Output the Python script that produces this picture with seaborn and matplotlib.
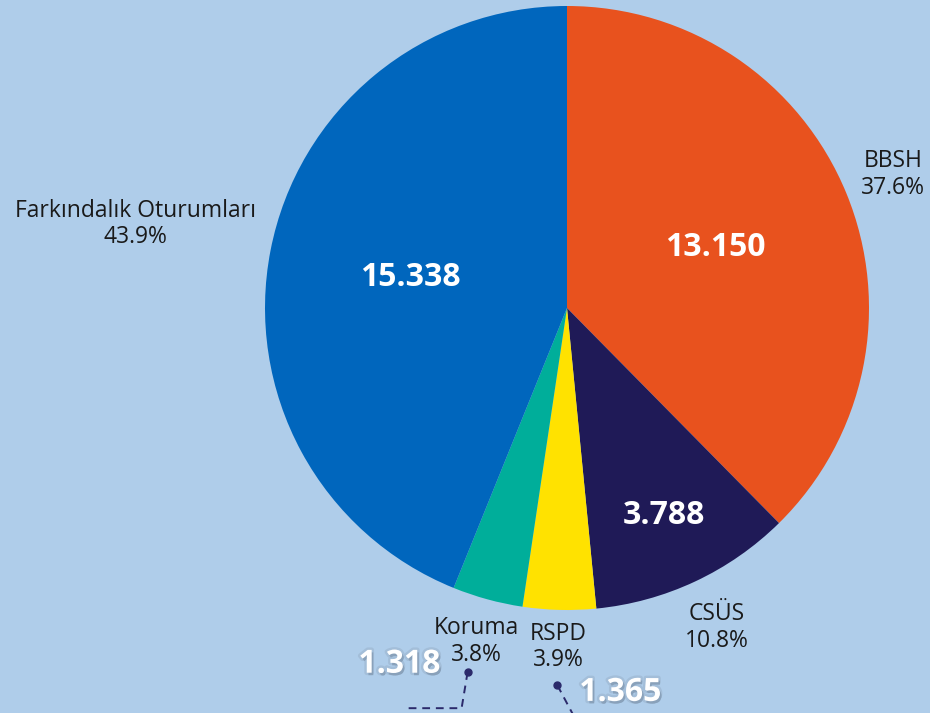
import numpy as np
import matplotlib
matplotlib.use('Agg')
import matplotlib.pyplot as plt
import matplotlib.patheffects as pe
import seaborn as sns

# Data
categories = ['BBSH', 'CSÜS', 'RSPD', 'Koruma', 'Farkındalık Oturumları']
values = [13150, 3788, 1365, 1318, 15338]
colors = ['#e8521e', '#1f1a57', '#ffe200', '#00ae9a', '#0066bd']

# Layout (label distances from centre, in radii)
label_dist = [1.168, 1.168, 1.123, 1.145, 1.455]
inner_dist = [0.53, 0.76, None, None, 0.53]
# small slices: value printed outside with a dashed leader (pixel offsets)
leader_path = {2: [(0, 0), (16, -30), (32, -60)],
               3: [(0, 0), (-6, -36), (-63, -36)]}
value_offset = {2: (63, -7), 3: (-68, 8)}

BG = '#afcdea'
sns.set_theme(style='white')
plt.rcParams['font.family'] = ['Open Sans', 'DejaVu Sans']

fig = plt.figure(figsize=(9.3, 7.13), dpi=100, facecolor=BG)
ax = fig.add_axes([0, 0, 1, 1])
ax.set_facecolor(BG)

wedges, _ = ax.pie(values, colors=colors, startangle=90, counterclock=False,
                   radius=1, wedgeprops=dict(linewidth=0))

R = 302.0
cx, cy = 567, 308
ax.set_xlim(-cx / R, (930 - cx) / R)
ax.set_ylim(-(713 - cy) / R, cy / R)
ax.axis('off')

total = sum(values)


def fmt(v):
    return f'{v:,}'.replace(',', '.')


shadow = [pe.SimplePatchShadow(offset=(1.2, -1.8), shadow_rgbFace='#3d4f66', alpha=0.35),
          pe.Stroke(linewidth=3.5, foreground='#8ea3ba', alpha=0.35),
          pe.Normal()]

for i, w in enumerate(wedges):
    ang = np.deg2rad((w.theta1 + w.theta2) / 2)
    ux, uy = np.cos(ang), np.sin(ang)

    # outside category label + percent
    d = label_dist[i]
    ax.text(d * ux, d * uy, f'{categories[i]}\n{values[i] / total * 100:.1f}%',
            ha='center', va='center', fontsize=16.5, color='#1a1a1a',
            linespacing=1.15)

    if inner_dist[i] is not None:
        d = inner_dist[i]
        ax.text(d * ux, d * uy, fmt(values[i]), ha='center', va='center',
                fontsize=23, fontweight='bold', color='white')
    else:
        px0, py0 = 1.25 * ux, 1.25 * uy
        pts = leader_path[i]
        xs = [px0 + p[0] / R for p in pts]
        ys = [py0 + p[1] / R for p in pts]
        ax.plot(xs, ys, ls='--', color='#2b2a6b', lw=1.4, dashes=(4, 3),
                clip_on=False)
        ax.plot([px0], [py0], 'o', color='#2b2a6b', ms=5)
        ox, oy = value_offset[i]
        ax.text(px0 + ox / R, py0 + oy / R, fmt(values[i]), ha='center',
                va='center', fontsize=23, fontweight='bold', color='white',
                path_effects=shadow)

fig.savefig('out.png', dpi=100, facecolor=BG)
